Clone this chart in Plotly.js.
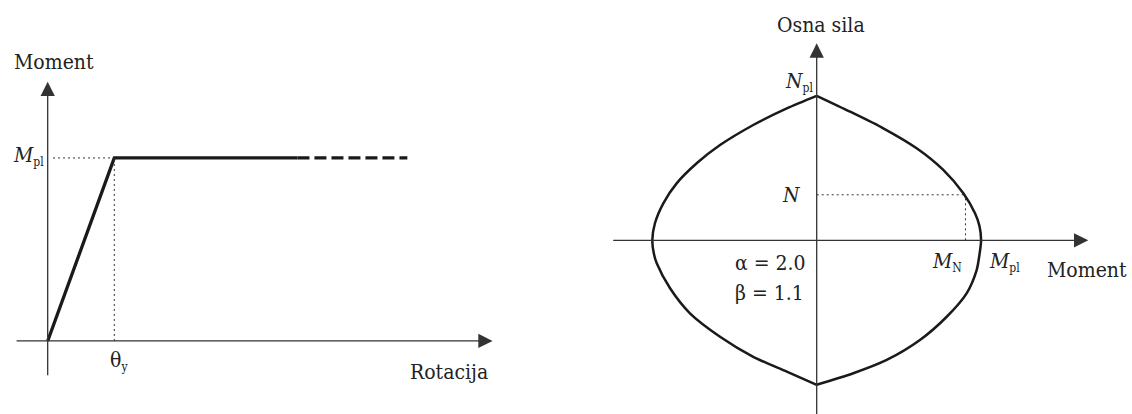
<!DOCTYPE html>
<html>
<head>
<meta charset="utf-8">
<script src="https://cdn.plot.ly/plotly-3.0.1.min.js"></script>
<style>html,body{margin:0;padding:0;background:#fff;}#chart{width:1132px;height:414px;}</style>
</head>
<body>
<div id="chart"></div>
<script>
// ---- Left panel: moment-rotation (rotation in units of theta_y, moment in units of M_pl)
const rotation = [0, 1, 3.75];
const moment = [0, 1, 1];
const rotationDashed = [3.75, 5.4];
const momentDashed = [1, 1];
const thetaY = 1;
const Mpl = 1;
const leftXAxisExtent = [-0.49, 6.68];
const leftYAxisExtent = [-0.195, 1.417];

// ---- Right panel: M-N interaction curve (normalised M/Mpl, N/Npl)
const rightHalfM = [0, 0.203, 0.405, 0.608, 0.77, 0.892, 0.963, 0.99, 1.0, 0.99, 0.973, 0.912, 0.791, 0.628, 0.426, 0.223, 0];
const rightHalfN = [1, 0.89, 0.775, 0.637, 0.487, 0.325, 0.187, 0.1, 0, -0.1, -0.206, -0.367, -0.529, -0.69, -0.828, -0.92, -1];
const leftHalfM = [0, -0.182, -0.386, -0.588, -0.73, -0.852, -0.933, -0.984, -1, -0.99, -0.973, -0.892, -0.771, -0.588, -0.386, -0.182, 0];
const leftHalfN = [1, 0.913, 0.798, 0.659, 0.533, 0.394, 0.256, 0.118, 0, -0.095, -0.159, -0.332, -0.505, -0.667, -0.806, -0.909, -1];
const pointMN = 0.905;
const pointN = 0.315;
const rightXAxisExtent = [-1.247, 1.652];
const rightYAxisExtent = [-1.25, 1.363];

const ink = '#1a1a1a';
const axisInk = '#333333';
const fontFam = 'DejaVu Serif Condensed, DejaVu Serif';
const fs = 21;

const traces = [
  {x: rotation, y: moment, xaxis: 'x', yaxis: 'y', mode: 'lines',
   line: {color: ink, width: 3.3}, hoverinfo: 'skip'},
  {x: rotationDashed, y: momentDashed, xaxis: 'x', yaxis: 'y', mode: 'lines',
   line: {color: ink, width: 3.3, dash: '12px,5px'}, hoverinfo: 'skip'},
  {x: [0.08, thetaY], y: [Mpl, Mpl], xaxis: 'x', yaxis: 'y', mode: 'lines',
   line: {color: axisInk, width: 1, dash: '2px,3px'}, hoverinfo: 'skip'},
  {x: [thetaY, thetaY], y: [0, Mpl], xaxis: 'x', yaxis: 'y', mode: 'lines',
   line: {color: axisInk, width: 1, dash: '2px,3px'}, hoverinfo: 'skip'},
  {x: rightHalfM, y: rightHalfN, xaxis: 'x2', yaxis: 'y2', mode: 'lines',
   line: {color: ink, width: 2.5, shape: 'spline', smoothing: 0.8}, hoverinfo: 'skip'},
  {x: leftHalfM, y: leftHalfN, xaxis: 'x2', yaxis: 'y2', mode: 'lines',
   line: {color: ink, width: 2.5, shape: 'spline', smoothing: 0.8}, hoverinfo: 'skip'},
  {x: [0, pointMN], y: [pointN, pointN], xaxis: 'x2', yaxis: 'y2', mode: 'lines',
   line: {color: axisInk, width: 1, dash: '2px,3px'}, hoverinfo: 'skip'},
  {x: [pointMN, pointMN], y: [0, pointN], xaxis: 'x2', yaxis: 'y2', mode: 'lines',
   line: {color: axisInk, width: 1, dash: '2px,3px'}, hoverinfo: 'skip'}
];

function arrow(xref, yref, x0, y0, x1, y1) {
  return {xref: xref, yref: yref, axref: xref, ayref: yref,
    x: x1, y: y1, ax: x0, ay: y0, text: '', showarrow: true,
    arrowhead: 2, arrowsize: 2.2, arrowwidth: 1.3, arrowcolor: axisInk,
    standoff: 0, startstandoff: 0};
}
function label(xref, yref, x, y, text, xanchor) {
  return {xref: xref, yref: yref, x: x, y: y, text: text, showarrow: false,
    xanchor: xanchor || 'center', yanchor: 'middle',
    font: {family: fontFam, size: fs, color: '#222'}};
}
const sub = s => '<sub><span style="font-size:12px">' + s + '</span></sub>';

const annotations = [
  arrow('x', 'y', leftXAxisExtent[0], 0, leftXAxisExtent[1], 0),
  arrow('x', 'y', 0, leftYAxisExtent[0], 0, leftYAxisExtent[1]),
  arrow('x2', 'y2', rightXAxisExtent[0], 0, rightXAxisExtent[1], 0),
  arrow('x2', 'y2', 0, rightYAxisExtent[0], 0, rightYAxisExtent[1]),
  label('x', 'y', -0.54, 1.525, 'Moment', 'left'),
  label('x', 'y', -0.03, 1.01, '<i>M</i>' + sub('pl'), 'right'),
  label('x', 'y', 1.07, -0.11, 'θ' + sub('y'), 'center'),
  label('x', 'y', 5.41, -0.168, 'Rotacija', 'left'),
  label('x2', 'y2', 0.026, 1.49, 'Osna sila', 'center'),
  label('x2', 'y2', -0.012, 1.098, '<i>N</i>' + sub('pl'), 'right'),
  label('x2', 'y2', -0.083, pointN, '<i>N</i>', 'right'),
  label('x2', 'y2', 0.895, -0.148, '<i>M</i>' + sub('N'), 'right'),
  label('x2', 'y2', 1.034, -0.148, '<i>M</i>' + sub('pl'), 'left'),
  label('x2', 'y2', 1.90, -0.206, 'Moment', 'right'),
  label('x2', 'y2', -0.511, -0.159, 'α = 2.0', 'left'),
  label('x2', 'y2', -0.509, -0.367, 'β = 1.1', 'left')
];

const hidden = {visible: false, fixedrange: true};
const layout = {
  width: 1132, height: 414,
  margin: {l: 0, r: 0, t: 0, b: 0, pad: 0},
  paper_bgcolor: '#fff', plot_bgcolor: '#fff',
  showlegend: false,
  font: {family: fontFam, size: fs, color: '#222'},
  xaxis: Object.assign({domain: [0, 0.5], range: [-0.716, 7.782]}, hidden),
  yaxis: Object.assign({domain: [0, 1], range: [-0.399, 1.863]}, hidden),
  xaxis2: Object.assign({domain: [0.5, 1], range: [-1.525, 1.918], anchor: 'y2'}, hidden),
  yaxis2: Object.assign({domain: [0, 1], range: [-1.202, 1.663], anchor: 'x2'}, hidden),
  annotations: annotations
};

Plotly.newPlot('chart', traces, layout, {staticPlot: true, displayModeBar: false});
</script>
</body>
</html>
